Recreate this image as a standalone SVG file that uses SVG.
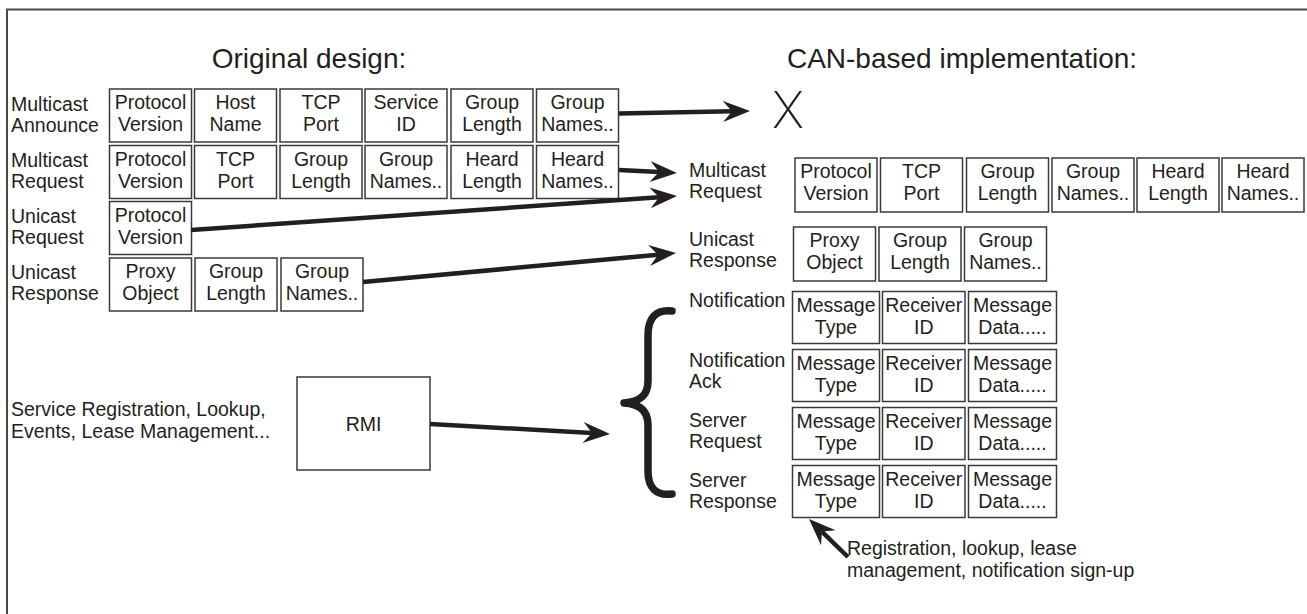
<svg xmlns="http://www.w3.org/2000/svg" width="1307" height="614" viewBox="0 0 1307 614">
  <style>
    .t { font-family: "Liberation Sans", Arial, Helvetica, sans-serif; font-size: 19.5px; fill: #231f20; }
    .c { text-anchor: middle; }
    .title { font-family: "Liberation Sans", Arial, Helvetica, sans-serif; font-size: 28px; fill: #231f20; text-anchor: middle; }
    .box { fill: #ffffff; stroke: #3a3a3a; stroke-width: 1.5; }
    .arrow { fill: none; stroke: #231f20; stroke-width: 4.5; marker-end: url(#ah); }
    .frame { fill: none; stroke: #4a4a4a; stroke-width: 2; }
  </style>
  <defs>
    <marker id="ah" markerUnits="userSpaceOnUse" markerWidth="32" markerHeight="26" viewBox="0 -13 32 26" refX="9" refY="0" orient="auto">
      <path d="M0,-10.5 L27,0 L0,10.5 L9,0 Z" fill="#231f20"/>
    </marker>
  </defs>

  <rect width="1307" height="614" fill="#ffffff"/>
  <path class="frame" d="M7,614 L7,9.5 L1307,9.5"/>

  <!-- headings -->
  <text class="title" x="309" y="68">Original design:</text>
  <text class="title" x="962" y="68">CAN-based implementation:</text>

  <!-- original design: message labels -->
  <g id="lbl-multicast-announce"><text class="t" x="11" y="110.5">Multicast</text><text class="t" x="11" y="131.5">Announce</text></g>
  <g id="lbl-multicast-request"><text class="t" x="11" y="167">Multicast</text><text class="t" x="11" y="188">Request</text></g>
  <g id="lbl-unicast-request"><text class="t" x="11" y="222.5">Unicast</text><text class="t" x="11" y="243.5">Request</text></g>
  <g id="lbl-unicast-response"><text class="t" x="11" y="279">Unicast</text><text class="t" x="11" y="300">Response</text></g>

  <!-- Multicast Announce fields -->
  <g id="ma-1"><rect class="box" x="109.5" y="89" width="82" height="53"/><text class="t c" x="150.5" y="109">Protocol</text><text class="t c" x="150.5" y="131">Version</text></g>
  <g id="ma-2"><rect class="box" x="194.5" y="89" width="82" height="53"/><text class="t c" x="235.5" y="109">Host</text><text class="t c" x="235.5" y="131">Name</text></g>
  <g id="ma-3"><rect class="box" x="280" y="89" width="82" height="53"/><text class="t c" x="321" y="109">TCP</text><text class="t c" x="321" y="131">Port</text></g>
  <g id="ma-4"><rect class="box" x="365" y="89" width="82" height="53"/><text class="t c" x="406" y="109">Service</text><text class="t c" x="406" y="131">ID</text></g>
  <g id="ma-5"><rect class="box" x="451" y="89" width="82" height="53"/><text class="t c" x="492" y="109">Group</text><text class="t c" x="492" y="131">Length</text></g>
  <g id="ma-6"><rect class="box" x="536.5" y="89" width="82" height="53"/><text class="t c" x="577.5" y="109">Group</text><text class="t c" x="577.5" y="131">Names..</text></g>

  <!-- Multicast Request fields -->
  <g id="mr-1"><rect class="box" x="109.5" y="145.5" width="82" height="53"/><text class="t c" x="150.5" y="165.5">Protocol</text><text class="t c" x="150.5" y="187.5">Version</text></g>
  <g id="mr-2"><rect class="box" x="194.5" y="145.5" width="82" height="53"/><text class="t c" x="235.5" y="165.5">TCP</text><text class="t c" x="235.5" y="187.5">Port</text></g>
  <g id="mr-3"><rect class="box" x="280" y="145.5" width="82" height="53"/><text class="t c" x="321" y="165.5">Group</text><text class="t c" x="321" y="187.5">Length</text></g>
  <g id="mr-4"><rect class="box" x="365" y="145.5" width="82" height="53"/><text class="t c" x="406" y="165.5">Group</text><text class="t c" x="406" y="187.5">Names..</text></g>
  <g id="mr-5"><rect class="box" x="451" y="145.5" width="82" height="53"/><text class="t c" x="492" y="165.5">Heard</text><text class="t c" x="492" y="187.5">Length</text></g>
  <g id="mr-6"><rect class="box" x="536.5" y="145.5" width="82" height="53"/><text class="t c" x="577.5" y="165.5">Heard</text><text class="t c" x="577.5" y="187.5">Names..</text></g>

  <!-- Unicast Request fields -->
  <g id="ur-1"><rect class="box" x="109.5" y="201.5" width="82" height="53"/><text class="t c" x="150.5" y="221.5">Protocol</text><text class="t c" x="150.5" y="243.5">Version</text></g>

  <!-- Unicast Response fields -->
  <g id="us-1"><rect class="box" x="109.5" y="258" width="82" height="53"/><text class="t c" x="150.5" y="278">Proxy</text><text class="t c" x="150.5" y="300">Object</text></g>
  <g id="us-2"><rect class="box" x="195" y="258" width="82" height="53"/><text class="t c" x="236" y="278">Group</text><text class="t c" x="236" y="300">Length</text></g>
  <g id="us-3"><rect class="box" x="281" y="258" width="82" height="53"/><text class="t c" x="322" y="278">Group</text><text class="t c" x="322" y="300">Names..</text></g>

  <!-- services carried over RMI -->
  <g id="lbl-services"><text class="t" x="11" y="416">Service Registration, Lookup,</text><text class="t" x="11" y="438">Events, Lease Management...</text></g>
  <g id="rmi"><rect class="box" x="297" y="377" width="133" height="93"/><text class="t c" x="363.5" y="431">RMI</text></g>

  <!-- dropped message -->
  <g id="dropped"><text x="788" y="128" font-family="Inter, Lato, 'Liberation Sans', sans-serif" font-weight="200" font-size="50" fill="#231f20" text-anchor="middle">X</text></g>

  <!-- CAN-based implementation: message labels -->
  <g id="can-lbl-multicast-request"><text class="t" x="689" y="177">Multicast</text><text class="t" x="689" y="198">Request</text></g>
  <g id="can-lbl-unicast-response"><text class="t" x="689" y="246">Unicast</text><text class="t" x="689" y="267">Response</text></g>
  <g id="can-lbl-notification"><text class="t" x="689" y="307">Notification</text></g>
  <g id="can-lbl-notification-ack"><text class="t" x="689" y="367">Notification</text><text class="t" x="689" y="388">Ack</text></g>
  <g id="can-lbl-server-request"><text class="t" x="689" y="426.5">Server</text><text class="t" x="689" y="447.5">Request</text></g>
  <g id="can-lbl-server-response"><text class="t" x="689" y="486.5">Server</text><text class="t" x="689" y="508">Response</text></g>

  <!-- CAN Multicast Request fields -->
  <g id="cmr-1"><rect class="box" x="795" y="158" width="82" height="54"/><text class="t c" x="836" y="178">Protocol</text><text class="t c" x="836" y="200">Version</text></g>
  <g id="cmr-2"><rect class="box" x="880.5" y="158" width="82" height="54"/><text class="t c" x="921.5" y="178">TCP</text><text class="t c" x="921.5" y="200">Port</text></g>
  <g id="cmr-3"><rect class="box" x="966.5" y="158" width="82" height="54"/><text class="t c" x="1007.5" y="178">Group</text><text class="t c" x="1007.5" y="200">Length</text></g>
  <g id="cmr-4"><rect class="box" x="1052" y="158" width="82" height="54"/><text class="t c" x="1093" y="178">Group</text><text class="t c" x="1093" y="200">Names..</text></g>
  <g id="cmr-5"><rect class="box" x="1137" y="158" width="82" height="54"/><text class="t c" x="1178" y="178">Heard</text><text class="t c" x="1178" y="200">Length</text></g>
  <g id="cmr-6"><rect class="box" x="1222" y="158" width="82" height="54"/><text class="t c" x="1263" y="178">Heard</text><text class="t c" x="1263" y="200">Names..</text></g>

  <!-- CAN Unicast Response fields -->
  <g id="cus-1"><rect class="box" x="793.5" y="227" width="82" height="54"/><text class="t c" x="834.5" y="247">Proxy</text><text class="t c" x="834.5" y="269">Object</text></g>
  <g id="cus-2"><rect class="box" x="879" y="227" width="82" height="54"/><text class="t c" x="920" y="247">Group</text><text class="t c" x="920" y="269">Length</text></g>
  <g id="cus-3"><rect class="box" x="964.5" y="227" width="82" height="54"/><text class="t c" x="1005.5" y="247">Group</text><text class="t c" x="1005.5" y="269">Names..</text></g>

  <!-- CAN generic message frames -->
  <g id="cn-1"><rect class="box" x="792.5" y="291.5" width="87" height="52"/><text class="t c" x="836" y="312">Message</text><text class="t c" x="836" y="333.5">Type</text></g>
  <g id="cn-2"><rect class="box" x="882.5" y="291.5" width="82.5" height="52"/><text class="t c" x="923.75" y="312">Receiver</text><text class="t c" x="923.75" y="333.5">ID</text></g>
  <g id="cn-3"><rect class="box" x="968.5" y="291.5" width="88" height="52"/><text class="t c" x="1012.5" y="312">Message</text><text class="t c" x="1012.5" y="333.5">Data.....</text></g>

  <g id="cna-1"><rect class="box" x="792.5" y="349.5" width="87" height="52"/><text class="t c" x="836" y="370">Message</text><text class="t c" x="836" y="391.5">Type</text></g>
  <g id="cna-2"><rect class="box" x="882.5" y="349.5" width="82.5" height="52"/><text class="t c" x="923.75" y="370">Receiver</text><text class="t c" x="923.75" y="391.5">ID</text></g>
  <g id="cna-3"><rect class="box" x="968.5" y="349.5" width="88" height="52"/><text class="t c" x="1012.5" y="370">Message</text><text class="t c" x="1012.5" y="391.5">Data.....</text></g>

  <g id="csq-1"><rect class="box" x="792.5" y="407.5" width="87" height="52"/><text class="t c" x="836" y="428">Message</text><text class="t c" x="836" y="449.5">Type</text></g>
  <g id="csq-2"><rect class="box" x="882.5" y="407.5" width="82.5" height="52"/><text class="t c" x="923.75" y="428">Receiver</text><text class="t c" x="923.75" y="449.5">ID</text></g>
  <g id="csq-3"><rect class="box" x="968.5" y="407.5" width="88" height="52"/><text class="t c" x="1012.5" y="428">Message</text><text class="t c" x="1012.5" y="449.5">Data.....</text></g>

  <g id="csr-1"><rect class="box" x="792.5" y="465.5" width="87" height="52"/><text class="t c" x="836" y="486">Message</text><text class="t c" x="836" y="507.5">Type</text></g>
  <g id="csr-2"><rect class="box" x="882.5" y="465.5" width="82.5" height="52"/><text class="t c" x="923.75" y="486">Receiver</text><text class="t c" x="923.75" y="507.5">ID</text></g>
  <g id="csr-3"><rect class="box" x="968.5" y="465.5" width="88" height="52"/><text class="t c" x="1012.5" y="486">Message</text><text class="t c" x="1012.5" y="507.5">Data.....</text></g>

  <g id="note-message-type"><text class="t" x="847" y="555">Registration, lookup, lease</text><text class="t" x="847" y="577">management, notification sign-up</text></g>

  <!-- grouping brace for the RMI-replacement messages -->
  <g id="brace">
    <path d="M672,311 C656,309 648,318 648,335 L648,381 C648,395 640,402 624,403 C640,404 648,411 648,425 L648,471 C648,488 656,496 672,494" fill="none" stroke="#231f20" stroke-width="7.5" stroke-linecap="round" stroke-linejoin="round"/>
  </g>

  <!-- connectors -->
  <g id="connectors">
    <path class="arrow" d="M619,113.5 L732,111.34"/>
    <path class="arrow" d="M619,170 L659,172.07"/>
    <path class="arrow" d="M191,230 L659.04,197.26"/>
    <path class="arrow" d="M363,282 L658.08,254.66"/>
    <path class="arrow" d="M430,424 L592.03,433"/>
    <path class="arrow" d="M848,557 L821.89,531.56"/>
  </g>
</svg>
